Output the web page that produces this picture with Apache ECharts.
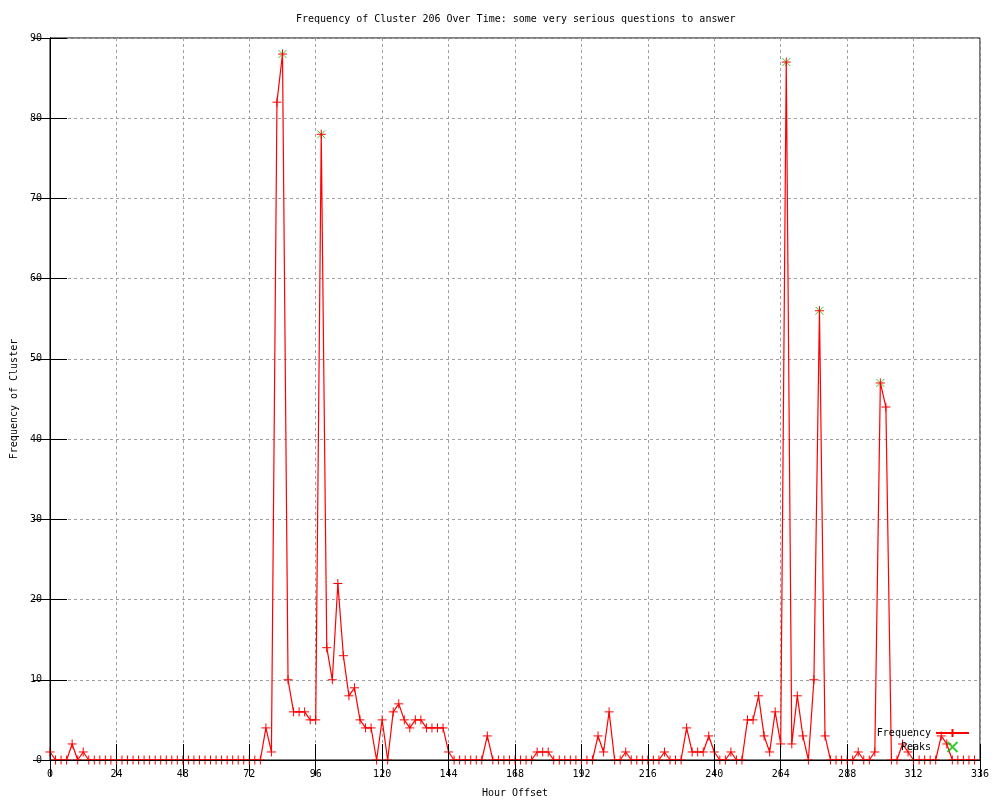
<!DOCTYPE html>
<html><head><meta charset="utf-8">
<script src="https://cdn.jsdelivr.net/npm/echarts@6/dist/echarts.min.js"></script>
<style>html,body{margin:0;padding:0;background:#fff}#c{width:1000px;height:800px}</style>
</head><body><div id="c"></div>
<script>
// Hour offsets of the samples
const hours = [
  0,2,4,6,8,10,12,14,16,18,20,22,
  24,26,28,30,32,34,36,38,40,42,44,46,
  48,50,52,54,56,58,60,62,64,66,68,70,
  72,74,76,78,80,82,84,86,88,90,92,94,
  96,98,100,102,104,106,108,110,112,114,116,118,
  120,122,124,126,128,130,132,134,136,138,140,142,
  144,146,148,150,152,154,156,158,160,162,164,166,
  168,170,172,174,176,178,180,182,184,186,188,190,
  192,194,196,198,200,202,204,206,208,210,212,214,
  216,218,220,222,224,226,228,230,232,234,236,238,
  240,242,244,246,248,250,252,254,256,258,260,262,
  264,266,268,270,272,274,276,278,280,282,284,286,
  288,290,292,294,296,298,300,302,304,306,308,310,
  312,314,316,318,320,322,324,326,328,330,332,334
];
// Frequency of cluster at each hour offset
const frequency = [
  1,0,0,0,2,0,1,0,0,0,0,0,
  0,0,0,0,0,0,0,0,0,0,0,0,
  0,0,0,0,0,0,0,0,0,0,0,0,
  0,0,0,4,1,82,88,10,6,6,6,5,
  5,78,14,10,22,13,8,9,5,4,4,0,
  5,0,6,7,5,4,5,5,4,4,4,4,
  1,0,0,0,0,0,0,3,0,0,0,0,
  0,0,0,0,1,1,1,0,0,0,0,0,
  0,0,0,3,1,6,0,0,1,0,0,0,
  0,0,0,1,0,0,0,4,1,1,1,3,
  1,0,0,1,0,0,5,5,8,3,1,6,
  2,87,2,8,3,0,10,56,3,0,0,0,
  0,0,1,0,0,1,47,44,0,0,2,1,
  0,0,0,0,0,3,2,0,0,0,0,0
];
// Detected peaks
const peakHours = [84, 98, 266, 278, 300];
const peakValues = [88, 78, 87, 56, 47];

const titleText = 'Frequency of Cluster 206 Over Time: some very serious questions to answer';
const xName = 'Hour Offset';
const yName = 'Frequency of Cluster';
const seriesNames = ['Frequency', 'Peaks'];

const FONT = 'DejaVu Sans Mono';
const PLUS = 'path://M0,5L10,5M5,0L5,10';
const CROSS = 'path://M0,0L10,10M10,0L0,10';

const freqData = hours.map((h, i) => [h, frequency[i]]);
const peakData = peakHours.map((h, i) => [h, peakValues[i]]);

const baseX = { type: 'value', min: 0, max: 336, interval: 24 };
const baseY = { type: 'value', min: 0, max: 90, interval: 10 };
const lbl = { fontFamily: FONT, fontSize: 10, color: '#000' };

const chart = echarts.init(document.getElementById('c'), null, { renderer: 'canvas' });
chart.setOption({
  animation: false,
  backgroundColor: '#fff',
  title: {
    text: titleText, left: 296, top: 14, padding: 0,
    textStyle: { fontFamily: FONT, fontSize: 10, fontWeight: 'normal', color: '#000' }
  },
  legend: {
    data: seriesNames, orient: 'vertical', align: 'right',
    right: 30, top: 728, padding: 0, itemGap: 3, itemWidth: 33, itemHeight: 10,
    textStyle: lbl, selectedMode: false
  },
  grid: {
    left: 50, right: 20, top: 38, bottom: 40, show: true, borderColor: '#000', borderWidth: 1,
    containLabel: false, outerBoundsMode: 'none'
  },
  xAxis: [
    Object.assign({}, baseX, {
      position: 'bottom', name: xName, nameLocation: 'middle', nameGap: 28,
      nameTextStyle: lbl,
      axisLine: { show: false },
      axisTick: { show: false },
      axisLabel: Object.assign({ margin: 9 }, lbl),
      splitLine: { show: true, lineStyle: { color: '#a0a0a0', type: [3, 3], width: 1 } }
    }),
    Object.assign({}, baseX, {
      position: 'top',
      axisLine: { show: true, lineStyle: { color: '#000' } },
      axisTick: { show: true, inside: true, length: 16, lineStyle: { color: '#000' } },
      axisLabel: { show: false }, splitLine: { show: false }
    }),
    Object.assign({}, baseX, {
      position: 'bottom', z: 10,
      axisLine: { show: true, lineStyle: { color: '#000' } },
      axisTick: { show: true, inside: true, length: 16, lineStyle: { color: '#000' } },
      axisLabel: { show: false }, splitLine: { show: false }
    })
  ],
  yAxis: [
    Object.assign({}, baseY, {
      position: 'left', name: yName, nameLocation: 'middle', nameGap: 31,
      nameTextStyle: lbl,
      axisLine: { show: true, lineStyle: { color: '#000' } },
      axisTick: { show: true, inside: true, length: 17, lineStyle: { color: '#000' } },
      axisLabel: Object.assign({ margin: 8 }, lbl),
      splitLine: { show: true, lineStyle: { color: '#a0a0a0', type: [3, 3], width: 1 } }
    }),
    Object.assign({}, baseY, {
      position: 'right',
      axisLine: { show: true, lineStyle: { color: '#000' } },
      axisTick: { show: true, inside: true, length: 17, lineStyle: { color: '#000' } },
      axisLabel: { show: false }, splitLine: { show: false }
    })
  ],
  series: [
    {
      name: seriesNames[1], type: 'scatter', xAxisIndex: 0, yAxisIndex: 0,
      data: peakData, symbol: CROSS, symbolSize: 8, symbolKeepAspect: true, z: 2,
      itemStyle: { color: '#00c000', borderColor: '#00c000', borderWidth: 1 },
      clip: false
    },
    {
      name: seriesNames[0], type: 'line', xAxisIndex: 0, yAxisIndex: 0,
      data: freqData, symbol: PLUS, symbolSize: 9, showAllSymbol: true, z: 3,
      lineStyle: { color: '#ff0000', width: 1.2 },
      itemStyle: { color: '#ff0000', borderColor: '#ff0000', borderWidth: 1 },
      clip: false
    }
  ]
});
</script>
</body></html>
